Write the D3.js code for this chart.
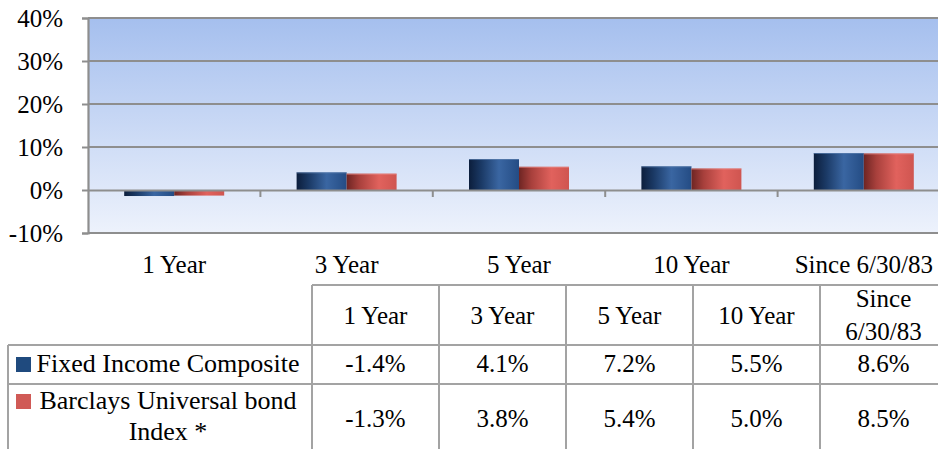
<!DOCTYPE html>
<html>
<head>
<meta charset="utf-8">
<script src="https://cdn.jsdelivr.net/npm/d3@7"></script>
<style>
  html, body { margin: 0; padding: 0; background: #fff; }
  svg { display: block; }
</style>
</head>
<body>
<svg id="chart" width="938" height="449"></svg>
<script>
// ---- data ----
const categories = ["1 Year", "3 Year", "5 Year", "10 Year", "Since 6/30/83"];
const headerLabels = [["1 Year"], ["3 Year"], ["5 Year"], ["10 Year"], ["Since", "6/30/83"]];
const seriesNames = ["Fixed Income Composite", "Barclays Universal bond Index *"];
const legendLines = [["Fixed Income Composite"], ["Barclays Universal bond", "Index *"]];
const compositeValues = [-1.4, 4.1, 7.2, 5.5, 8.6];
const barclaysValues = [-1.3, 3.8, 5.4, 5.0, 8.5];
const yTicks = [-10, 0, 10, 20, 30, 40];

const seriesValues = [compositeValues, barclaysValues];
const FONT = '"Liberation Serif", Tinos, "Times New Roman", Times, "Nimbus Roman", "Nimbus Roman No9 L", FreeSerif, "DejaVu Serif", serif';

const svg = d3.select("#chart");
const defs = svg.append("defs");

// gradients
const bg = defs.append("linearGradient").attr("id", "bg").attr("x1", 0).attr("y1", 0).attr("x2", 0).attr("y2", 1);
bg.append("stop").attr("offset", "0%").attr("stop-color", "#a5bfee");
bg.append("stop").attr("offset", "100%").attr("stop-color", "#edf2fc");

function barGrad(id, stops) {
  const g = defs.append("linearGradient").attr("id", id).attr("x1", 0).attr("y1", 0).attr("x2", 1).attr("y2", 0);
  stops.forEach(s => g.append("stop").attr("offset", s[0]).attr("stop-color", s[1]));
}
barGrad("gBlue", [["0%", "#0c1e3c"], ["25%", "#1b3a66"], ["60%", "#3a66a2"], ["100%", "#244c84"]]);
barGrad("gRed", [["0%", "#6e2523"], ["25%", "#a8403c"], ["65%", "#e1625d"], ["100%", "#cf5550"]]);
const fills = ["url(#gBlue)", "url(#gRed)"];
const legendColors = ["#1f4a7e", "#d05a56"];

// ---- scales ----
const plotLeft = 88, plotRight = 950, plotTop = 18, plotBottom = 233;
const y = d3.scaleLinear().domain([-10, 40]).range([plotBottom, plotTop]);
const x0 = d3.scaleBand().domain(categories).range([plotLeft, plotRight]).paddingInner(0.42).paddingOuter(0.21);
const x1 = d3.scaleBand().domain(d3.range(seriesNames.length)).range([0, x0.bandwidth()]);
const xc = d3.scaleBand().domain(categories).range([plotLeft, plotRight]);

// background
svg.append("rect").attr("x", plotLeft).attr("y", plotTop)
  .attr("width", plotRight - plotLeft).attr("height", plotBottom - plotTop)
  .attr("fill", "url(#bg)");

// gridlines
svg.append("g").selectAll("line").data(yTicks.filter(t => t !== 0)).join("line")
  .attr("x1", plotLeft).attr("x2", plotRight)
  .attr("y1", d => y(d)).attr("y2", d => y(d))
  .attr("stroke", "#8e8e8e").attr("stroke-width", 2.2);

// y axis
const yAxis = svg.append("g").attr("transform", `translate(${plotLeft},0)`)
  .call(d3.axisLeft(y).tickValues(yTicks).tickFormat(d => d + "%").tickSize(6).tickPadding(19));
yAxis.attr("font-family", null).attr("font-size", null);
yAxis.select(".domain").attr("stroke", "#8e8e8e").attr("stroke-width", 2.2);
yAxis.selectAll(".tick line").attr("stroke", "#8e8e8e").attr("stroke-width", 2);
yAxis.selectAll("text").style("font-family", FONT).style("font-size", "25px").attr("fill", "#000");

// bars
const groups = svg.append("g").selectAll("g").data(categories).join("g")
  .attr("transform", d => `translate(${x0(d)},0)`);
groups.selectAll("rect").data((d, i) => seriesValues.map((vals, s) => ({ s, v: vals[i] }))).join("rect")
  .attr("x", d => x1(d.s))
  .attr("width", x1.bandwidth())
  .attr("y", d => y(Math.max(0, d.v)))
  .attr("height", d => Math.abs(y(d.v) - y(0)))
  .attr("fill", d => fills[d.s]);
groups.selectAll("line.top").data((d, i) => seriesValues.map((vals, s) => ({ s, v: vals[i] }))).join("line")
  .attr("class", "top")
  .attr("x1", d => x1(d.s)).attr("x2", d => x1(d.s) + x1.bandwidth())
  .attr("y1", d => y(Math.max(0, d.v)) + 0.5).attr("y2", d => y(Math.max(0, d.v)) + 0.5)
  .attr("stroke", d => d.s === 0 ? "#5b7fb0" : "#e88a86").attr("stroke-width", 1).attr("opacity", 0.7);

// x axis at zero
const xAxis = svg.append("g").attr("transform", `translate(0,${y(0)})`)
  .call(d3.axisBottom(xc).tickSize(0).tickFormat(""));
xAxis.select(".domain").attr("stroke", "#8e8e8e").attr("stroke-width", 2.2);
svg.append("g").selectAll("line").data(categories.slice(1)).join("line")
  .attr("x1", d => xc(d)).attr("x2", d => xc(d))
  .attr("y1", y(0)).attr("y2", y(0) + 7)
  .attr("stroke", "#8e8e8e").attr("stroke-width", 2);

// category labels
svg.append("g").selectAll("text").data(categories).join("text")
  .attr("x", d => xc(d) + xc.bandwidth() / 2)
  .attr("y", 273)
  .attr("text-anchor", "middle")
  .style("font-family", FONT)
  .style("font-size", "25px")
  .text(d => d);

// ---- table ----
const tc = d3.scaleBand().domain(categories).range([312, 947]);
const rowLines = [285, 345, 384, 460];
const tbl = svg.append("g").style("font-family", FONT);
const gridColor = "#a3a3a3";
tbl.append("line").attr("x1", 312).attr("x2", 947).attr("y1", rowLines[0]).attr("y2", rowLines[0])
  .attr("stroke", gridColor).attr("stroke-width", 2);
[rowLines[1], rowLines[2]].forEach(yy => tbl.append("line").attr("x1", 8).attr("x2", 947).attr("y1", yy).attr("y2", yy)
  .attr("stroke", gridColor).attr("stroke-width", 2));
categories.forEach(c => tbl.append("line").attr("x1", tc(c)).attr("x2", tc(c)).attr("y1", rowLines[0]).attr("y2", rowLines[3])
  .attr("stroke", gridColor).attr("stroke-width", 2));
tbl.append("line").attr("x1", 8).attr("x2", 8).attr("y1", rowLines[1]).attr("y2", rowLines[3])
  .attr("stroke", gridColor).attr("stroke-width", 2);

// header labels
const headerBaselines = { 1: [324], 2: [307, 340] };
tbl.selectAll("text.h").data(categories).join("text").attr("class", "h")
  .attr("text-anchor", "middle")
  .style("font-family", FONT)
  .style("font-size", "25px")
  .each(function (d, i) {
    const lines = headerLabels[i];
    const ys = headerBaselines[lines.length];
    lines.forEach((ln, k) => d3.select(this).append("tspan")
      .attr("x", tc(d) + tc.bandwidth() / 2).attr("y", ys[k]).text(ln));
  });

// value rows
const rowBaselines = [372, 427];
seriesValues.forEach((vals, s) => {
  tbl.selectAll("text.v" + s).data(vals).join("text").attr("class", "v" + s)
    .attr("x", (d, i) => tc(categories[i]) + tc.bandwidth() / 2)
    .attr("y", rowBaselines[s])
    .attr("text-anchor", "middle")
    .style("font-family", FONT)
    .style("font-size", "25px")
    .text(d => d.toFixed(1) + "%");
});

// legend cells
const legendBaselines = [[372], [409, 440]];
legendLines.forEach((lines, s) => {
  tbl.append("rect").attr("x", 16).attr("y", legendBaselines[s][0] - 15).attr("width", 15).attr("height", 15)
    .attr("fill", legendColors[s]);
  const t = tbl.append("text").attr("text-anchor", "middle")
    .style("font-family", FONT).style("font-size", "26px");
  lines.forEach((ln, k) => t.append("tspan").attr("x", 168).attr("y", legendBaselines[s][k]).text(ln));
});
</script>
</body>
</html>
